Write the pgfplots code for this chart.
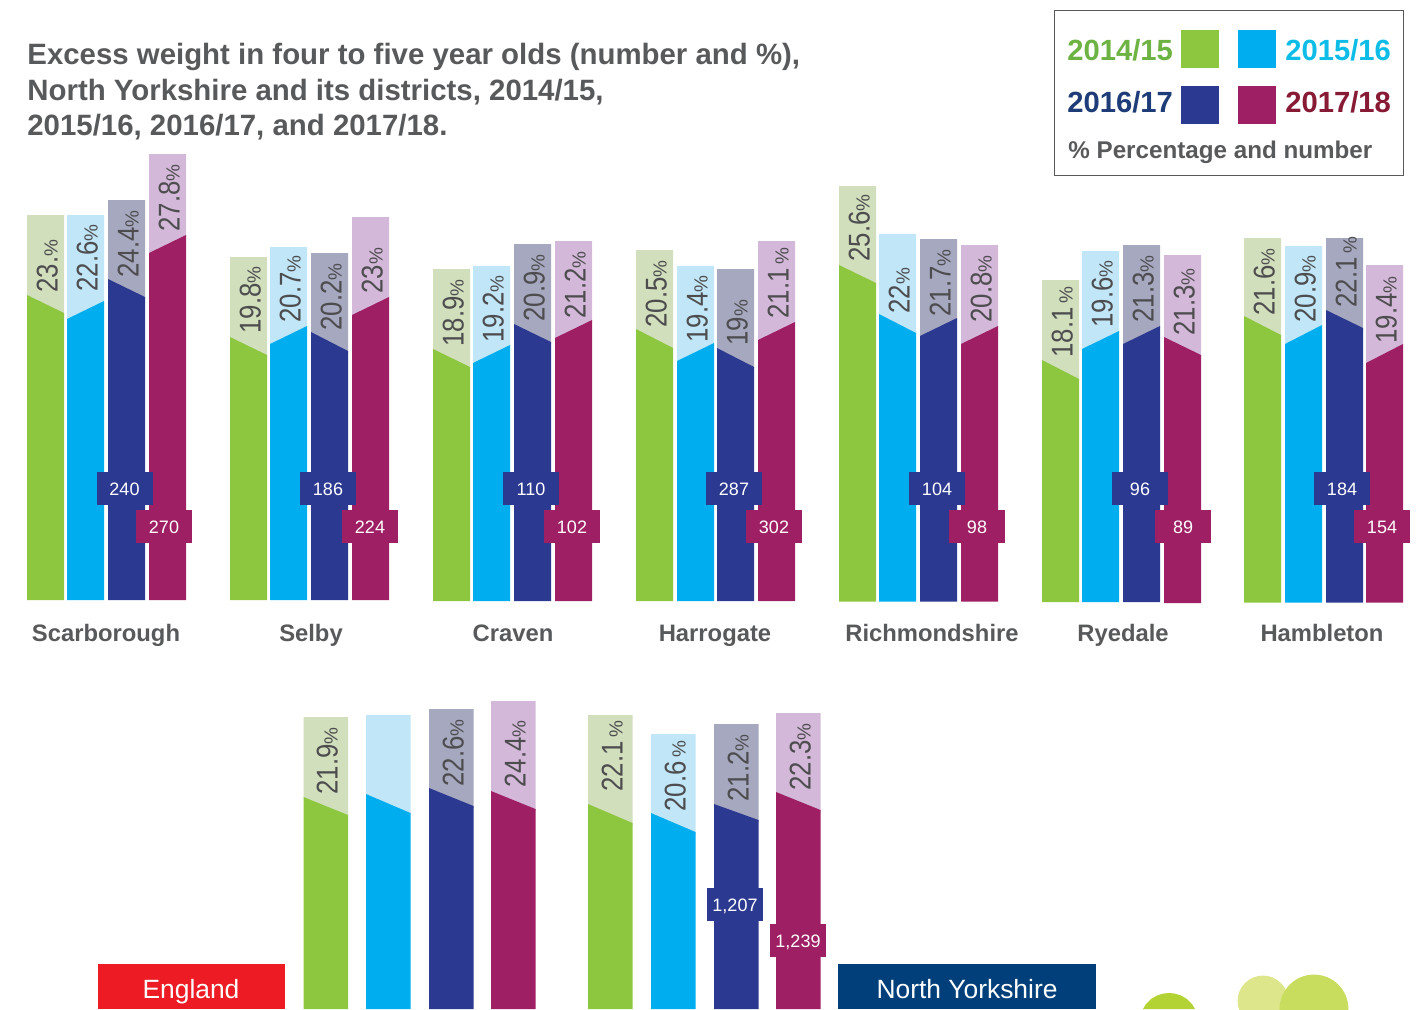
\documentclass[border=0pt]{standalone}
\usepackage{fontspec}
\setmainfont{Liberation Sans}
\usepackage{graphicx}
\usepackage{pgfplots}
\pgfplotsset{compat=1.18}

\definecolor{cgreen}{HTML}{8DC63F}  \definecolor{pgreen}{HTML}{D1DFBC}
\definecolor{ccyan}{HTML}{00AEEF}   \definecolor{pcyan}{HTML}{C1E6F7}
\definecolor{cnavy}{HTML}{2B3990}   \definecolor{pnavy}{HTML}{A6A8BF}
\definecolor{cmaroon}{HTML}{9E1F63} \definecolor{pmaroon}{HTML}{D4B8D9}
\definecolor{txt}{HTML}{58595B}
\definecolor{barnum}{HTML}{4D4D4F}
\definecolor{kgreen}{HTML}{6DB344}  \definecolor{kcyan}{HTML}{0DBDE8}
\definecolor{knavy}{HTML}{1D3C78}   \definecolor{kmaroon}{HTML}{871A35}
\definecolor{dgreen}{HTML}{B3D335}  \definecolor{lgreen}{HTML}{DDE68A}
\definecolor{mgreen}{HTML}{C8DC5E}

% #1 left, #2 width, #3 top, #4 split at left, #5 split at right, #6 base, #7 name of colour
\newcommand\onebar[7]{%
  \addplot[fill=p#7,draw=none] coordinates {(#1,#3) (#1+#2,#3) (#1+#2,#5+2) (#1,#4+2)};
  \addplot[fill=c#7,draw=none] coordinates {(#1,#4) (#1+#2,#5) (#1+#2,#6) (#1,#6)};
}
% percentage written up the bar: #1 baseline x, #2 start y, #3 number
\newcommand\pct[3]{\node[rotate=90,anchor=base west,inner sep=0pt,text=barnum]
  at (axis cs:#1+1.5,#2) {\scalebox{0.86}[1]{\fontsize{15}{15}\selectfont #3}{\fontsize{9.5}{9.5}\selectfont\%}};}
\newcommand\num[4]{\node[fill=c#1,text=white,minimum width=28pt,minimum height=16.5pt,inner sep=0pt,
  text height=6.9pt,text depth=0pt,font=\fontsize{9}{9}\selectfont] at (axis cs:#2,#3) {#4};}
\newcommand\cat[2]{\node[anchor=base,text=txt,inner sep=0pt,font=\fontsize{11.9}{11.9}\selectfont\bfseries]
  at (axis cs:#1,641) {#2};}
\newcommand\ttl[2]{\node[anchor=base west,text=txt,inner sep=0pt,font=\fontsize{14.7}{14.7}\selectfont\bfseries]
  at (axis cs:27,#1) {#2};}
\newcommand\key[4]{\node[anchor=base west,text=#3,inner sep=0pt,font=\fontsize{14.6}{14.6}\selectfont\bfseries]
  at (axis cs:#1,#2) {#4};}
\newcommand\square[3]{\addplot[fill=c#3,draw=none] coordinates {(#1,#2) (#1+38,#2) (#1+38,#2+38) (#1,#2+38)};}

\begin{document}
\begin{tikzpicture}
\begin{axis}[scale only axis,width=710pt,height=504.5pt,hide axis,
    xmin=0,xmax=1420,ymin=0,ymax=1009,y dir=reverse,clip=true]

% Scarborough
\onebar{27}{37}{215}{295}{313}{600}{green}
\onebar{67}{37}{215}{319}{301}{600}{cyan}
\onebar{108}{37}{200}{279}{297}{600}{navy}
\onebar{149}{37}{154}{253}{235}{600}{maroon}
% Selby
\onebar{230}{37}{257}{337}{355}{600}{green}
\onebar{270}{37}{247}{344}{326}{600}{cyan}
\onebar{311}{37}{253}{332}{351}{600}{navy}
\onebar{352}{37}{217}{315}{297}{600}{maroon}
% Craven
\onebar{433}{37}{269}{349}{367}{601}{green}
\onebar{473}{37}{266}{363}{345}{601}{cyan}
\onebar{514}{37}{244}{324}{342}{601}{navy}
\onebar{555}{37}{241}{338}{320}{601}{maroon}
% Harrogate
\onebar{636}{37}{250}{329}{348}{601}{green}
\onebar{677}{37}{266}{361}{343}{601}{cyan}
\onebar{717}{37}{269}{348}{367}{601}{navy}
\onebar{758}{37}{241}{340}{322}{601}{maroon}
% Richmondshire
\onebar{839}{37}{186}{265}{283}{601.5}{green}
\onebar{879}{37}{234}{314}{333}{601.5}{cyan}
\onebar{920}{37}{239}{336}{318}{601.5}{navy}
\onebar{961}{37}{245}{344}{326}{601.5}{maroon}
% Ryedale
\onebar{1042}{37}{280}{360}{379}{602}{green}
\onebar{1082}{37}{251}{349}{331}{602}{cyan}
\onebar{1123}{37}{245}{344}{326}{602}{navy}
\onebar{1164}{37}{255}{337}{355}{603}{maroon}
% Hambleton
\onebar{1244}{37}{238}{316}{335}{602.5}{green}
\onebar{1285}{37}{246}{344}{325}{602.5}{cyan}
\onebar{1326}{37}{238}{310}{328}{602.5}{navy}
\onebar{1366}{37}{265}{363}{344}{602.5}{maroon}
% England
\onebar{303.5}{44.5}{717}{797}{815}{1009}{green}
\onebar{366}{44.5}{715}{794}{813}{1009}{cyan}
\onebar{429}{44.5}{709}{788}{806}{1009}{navy}
\onebar{491}{44.5}{701}{791}{809}{1009}{maroon}
% North Yorkshire
\onebar{588}{44.5}{715}{804}{823}{1009}{green}
\onebar{651}{44.5}{734}{813}{832}{1009}{cyan}
\onebar{714}{44.5}{724}{804}{820}{1009}{navy}
\onebar{776}{44.5}{713}{792}{810}{1009}{maroon}

% name boxes
\addplot[fill={rgb,255:red,237;green,28;blue,36},draw=none] coordinates {(98,964) (285,964) (285,1009) (98,1009)};
\addplot[fill={rgb,255:red,0;green,63;blue,121},draw=none] coordinates {(838,964) (1096,964) (1096,1009) (838,1009)};

% discs cut by the lower edge
\addplot[fill=dgreen,draw=none] coordinates {(1143,1009) (1146,1004) (1151,999) (1157,995.5) (1163,993.6) (1169,993) (1175,993.6) (1181,995.5) (1187,999) (1192,1004) (1195,1009)};
\addplot[only marks,mark=*,mark size=12.5pt,mark options={draw=lgreen,fill=lgreen}] coordinates {(1263,1001)};
\addplot[only marks,mark=*,mark size=17pt,mark options={draw=mgreen,fill=mgreen}] coordinates {(1314,1009)};

% key
\addplot[draw=txt,line width=0.5pt] coordinates {(1054,10) (1403,10) (1403,175) (1054,175) (1054,10)};
\square{1181}{30}{green}
\square{1238}{30}{cyan}
\square{1181}{86}{navy}
\square{1238}{86}{maroon}

\ttl{64}{Excess weight in four to five year olds (number and \%),}
\ttl{100}{North Yorkshire and its districts, 2014/15,}
\ttl{135}{2015/16, 2016/17, and 2017/18.}

\key{1067}{60}{kgreen}{2014/15}
\key{1285}{60}{kcyan}{2015/16}
\key{1067}{112}{knavy}{2016/17}
\key{1285}{112}{kmaroon}{2017/18}
\node[anchor=base west,text=txt,inner sep=0pt,font=\fontsize{12.1}{12.1}\selectfont\bfseries]
  at (axis cs:1068,158) {\% Percentage and number};

\cat{106}{Scarborough} \cat{311}{Selby} \cat{513}{Craven} \cat{715}{Harrogate}
\cat{932}{Richmondshire} \cat{1123}{Ryedale} \cat{1322}{Hambleton}

\pct{56}{293}{23.} \pct{96}{292}{22.6} \pct{137}{278}{24.4} \pct{178}{232}{27.8}
\pct{259}{334}{19.8} \pct{299}{323}{20.7} \pct{340}{331}{20.2} \pct{381}{294}{23}
\pct{462}{347}{18.9} \pct{502}{343}{19.2} \pct{543}{322}{20.9} \pct{584}{319}{21.2}
\pct{665}{328}{20.5} \pct{706}{343}{19.4} \pct{746}{346}{19} \pct{787}{319}{21.1\,}
\pct{868}{262}{25.6} \pct{908}{314}{22} \pct{949}{317}{21.7} \pct{990}{323}{20.8}
\pct{1071}{358}{18.1\,} \pct{1111}{328}{19.6} \pct{1152}{323}{21.3} \pct{1193}{336}{21.3}
\pct{1273}{316}{21.6} \pct{1314}{323}{20.9} \pct{1355}{308}{22.1\,} \pct{1395}{344}{19.4}
\pct{336}{795}{21.9} \pct{462}{787}{22.6} \pct{524}{788}{24.4}
\pct{621}{792}{22.1\,} \pct{684}{812}{20.6\,} \pct{747}{802}{21.2} \pct{809}{791}{22.3}

\num{navy}{124.5}{488.5}{240}  \num{maroon}{164}{526.5}{270}
\num{navy}{328}{488.5}{186}    \num{maroon}{370}{526.5}{224}
\num{navy}{531}{488.5}{110}    \num{maroon}{572}{526.5}{102}
\num{navy}{734}{488.5}{287}    \num{maroon}{774}{526.5}{302}
\num{navy}{937}{488.5}{104}    \num{maroon}{977}{526.5}{98}
\num{navy}{1140}{488.5}{96}    \num{maroon}{1183}{526.5}{89}
\num{navy}{1342}{488.5}{184}   \num{maroon}{1382}{526.5}{154}
\num{navy}{735}{904.5}{1,207}  \num{maroon}{798}{940.5}{1,239}

\node[anchor=base,text=white,inner sep=0pt,font=\fontsize{13.2}{13.2}\selectfont] at (axis cs:191,998) {England};
\node[anchor=base,text=white,inner sep=0pt,font=\fontsize{13.2}{13.2}\selectfont] at (axis cs:967,998) {North Yorkshire};
\end{axis}
\pgfresetboundingbox
\path[use as bounding box] (0,0) rectangle (710pt,504.5pt);
\end{tikzpicture}
\end{document}
